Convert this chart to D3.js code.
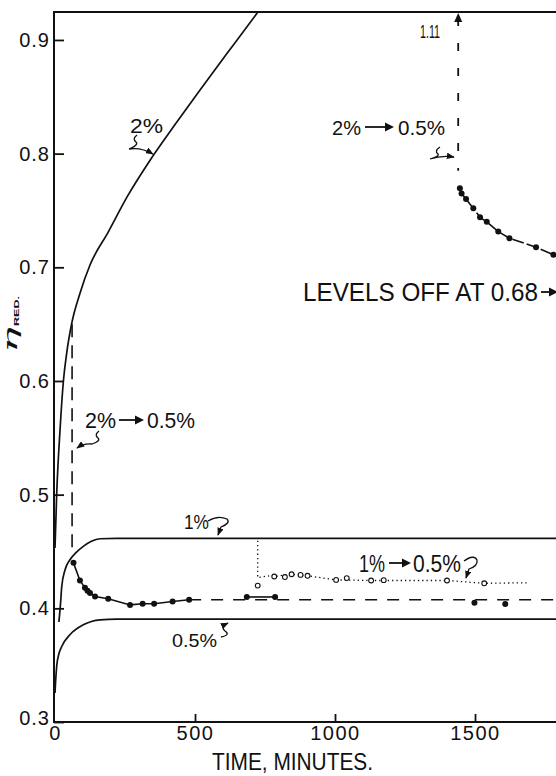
<!DOCTYPE html>
<html>
<head>
<meta charset="utf-8">
<script src="https://cdn.jsdelivr.net/npm/d3@7"></script>
<style>
  html, body { margin: 0; padding: 0; background: #fff; }
  svg { display: block; }
  text { font-family: "Liberation Sans", Arial, sans-serif; fill: #111; }
</style>
</head>
<body>
<div id="chart"></div>
<script>
// Reduced viscosity vs. time for 2%, 1% and 0.5% solutions, plus dilution runs.
// [minutes, reduced viscosity]
const curve2 = [[0,0.453],[6,0.500],[18,0.557],[30,0.600],[42,0.625],[60,0.651],[89,0.677],[125,0.702],[190,0.731],[260,0.763],[339,0.794],[430,0.826],[518,0.856],[620,0.890],[726,0.925],[760,0.936]];
const curve1 = [[14,0.388],[20,0.405],[24,0.419],[36,0.434],[54,0.443],[75,0.449],[101,0.4545],[130,0.459],[161,0.4612],[220,0.4615],[1790,0.4615]];
const curve05 = [[0,0.3255],[2,0.335],[6,0.349],[14,0.360],[24,0.3664],[54,0.377],[101,0.3855],[161,0.3899],[220,0.3905],[1790,0.3905]];

// 2% diluted to 0.5% at ~61 min (filled circles)
const dil2Early = [[66,0.440],[89,0.4245],[107,0.418],[116,0.4155],[125,0.4134],[143,0.4104],[190,0.4084],[268,0.403],[313,0.404],[354,0.404],[420,0.406],[479,0.4075]];
const dil2Late = [[685,0.410],[786,0.410],[1498,0.405],[1608,0.4037]];
const dil2Level = [[479,0.4075],[1790,0.4075]];
const drop2Early = [[61,0.650],[61,0.453]];

// 1% diluted to 0.5% at ~724 min (open circles)
const dil1 = [[724,0.420],[783,0.428],[821,0.4275],[845,0.430],[877,0.4294],[902,0.4286],[1004,0.425],[1042,0.4266],[1129,0.4245],[1174,0.4248],[1400,0.4245],[1533,0.422]];
const dil1Trace = [[724,0.4595],[724,0.427],[760,0.4285],[783,0.428],[845,0.430],[902,0.4286],[1004,0.425],[1129,0.4245],[1400,0.4245],[1533,0.422],[1694,0.4225]];

// 2% diluted to 0.5% at ~1440 min (value 1.11 before dilution)
const drop2Late = [[1440,0.9246],[1440,0.785]];
const dil2b = [[1446,0.7696],[1452,0.765],[1468,0.760],[1494,0.752],[1518,0.744],[1542,0.740],[1583,0.7314],[1623,0.7256],[1718,0.7177],[1780,0.711],[1790,0.710]];

const yTicks = [0.3,0.4,0.5,0.6,0.7,0.8,0.9];
const yTickLabels = ["0.3","0.4","0.5","0.6","0.7","0.8","0.9"];
const xTicks = [0,500,1000,1500];
const xTickLabels = ["0","500","1000","1500"];

const W = 556, H = 776;
const svg = d3.select("#chart").append("svg").attr("width", W).attr("height", H);

const x = d3.scaleLinear().domain([0, 1790]).range([55, 556.2]);
const y = d3.scaleLinear().domain([0.3, 0.9246]).range([722, 12]);

const defs = svg.append("defs");
defs.append("clipPath").attr("id", "plot")
  .append("rect").attr("x", 54).attr("y", 12).attr("width", 502).attr("height", 710);
defs.append("marker").attr("id", "ah")
  .attr("viewBox", "0 0 10 8").attr("refX", 9).attr("refY", 4)
  .attr("markerWidth", 8).attr("markerHeight", 6.4).attr("markerUnits", "userSpaceOnUse")
  .attr("orient", "auto")
  .append("path").attr("d", "M0,0 L10,4 L0,8 Z").attr("fill", "#111");

// frame
const frame = svg.append("g").attr("stroke", "#111").attr("stroke-width", 2).attr("fill", "none");
frame.append("line").attr("x1", 54).attr("x2", 54).attr("y1", 11).attr("y2", 723);
frame.append("line").attr("x1", 53).attr("x2", 556).attr("y1", 722).attr("y2", 722);
frame.append("line").attr("x1", 53).attr("x2", 556).attr("y1", 12).attr("y2", 12);

// axes with inward ticks
const yAxis = d3.axisLeft(y).tickValues(yTicks).tickSize(-10).tickPadding(4)
  .tickFormat((d, i) => yTickLabels[i]);
const gy = svg.append("g").attr("transform", "translate(54,0)").call(yAxis);
gy.select(".domain").remove();
gy.selectAll(".tick line").attr("stroke", "#111").attr("stroke-width", 1.8);
gy.selectAll(".tick text").style("font-size", "20px").style("letter-spacing", "1px")
  .style("font-family", "'Liberation Sans', Arial, sans-serif").attr("fill", "#111");
gy.selectAll(".tick").filter(d => d === 0.3).select("text").attr("dy", "0.1em");

const xAxis = d3.axisBottom(x).tickValues(xTicks).tickSize(-8).tickPadding(4)
  .tickFormat((d, i) => xTickLabels[i]);
const gx = svg.append("g").attr("transform", "translate(0,722)").call(xAxis);
gx.select(".domain").remove();
gx.selectAll(".tick line").attr("stroke", "#111").attr("stroke-width", 1.8);
gx.selectAll(".tick").filter(d => d === 0).select("line").remove();
gx.selectAll(".tick text").style("font-size", "20px").style("letter-spacing", "1.5px")
  .style("font-family", "'Liberation Sans', Arial, sans-serif").attr("fill", "#111");

// axis titles
svg.append("text").attr("x", 212).attr("y", 770)
  .attr("textLength", 161).attr("lengthAdjust", "spacingAndGlyphs")
  .style("font-size", "24px").text("TIME, MINUTES.");

const yt = svg.append("g").attr("transform", "translate(0,353) rotate(-90)");
yt.append("text").attr("x", 0).attr("y", 17)
  .attr("textLength", 26).attr("lengthAdjust", "spacingAndGlyphs")
  .style("font-family", "'DejaVu Serif', serif").style("font-style", "italic")
  .style("font-size", "18px").text("η");
yt.append("text").attr("x", 27).attr("y", 19)
  .attr("textLength", 30).attr("lengthAdjust", "spacingAndGlyphs")
  .style("font-size", "8px").style("font-weight", "bold").text("RED.");

// plotted data
const plot = svg.append("g").attr("clip-path", "url(#plot)");
const smooth = d3.line().x(d => x(d[0])).y(d => y(d[1])).curve(d3.curveMonotoneX);
const straight = d3.line().x(d => x(d[0])).y(d => y(d[1]));

[curve2, curve1, curve05].forEach(c => {
  plot.append("path").attr("d", smooth(c))
    .attr("fill", "none").attr("stroke", "#111").attr("stroke-width", 1.7);
});

plot.append("path").attr("d", straight(drop2Early))
  .attr("fill", "none").attr("stroke", "#111").attr("stroke-width", 1.6)
  .attr("stroke-dasharray", "13,8");

plot.append("path").attr("d", straight(dil2Early))
  .attr("fill", "none").attr("stroke", "#111").attr("stroke-width", 1.6);
plot.append("path").attr("d", straight(dil2Late.slice(0, 2)))
  .attr("fill", "none").attr("stroke", "#111").attr("stroke-width", 1.6);
plot.append("path").attr("d", straight(dil2Level))
  .attr("fill", "none").attr("stroke", "#111").attr("stroke-width", 1.6)
  .attr("stroke-dasharray", "12,10");

plot.append("path").attr("d", straight(dil1Trace))
  .attr("fill", "none").attr("stroke", "#111").attr("stroke-width", 1.3)
  .attr("stroke-dasharray", "1.3,3");

plot.append("path").attr("d", straight(drop2Late))
  .attr("fill", "none").attr("stroke", "#111").attr("stroke-width", 1.8)
  .attr("stroke-dasharray", "8,17").attr("stroke-dashoffset", -6);
svg.append("path").attr("d", `M${x(1440)},${y(0.9246) + 1} l-4,9 l8,0 Z`).attr("fill", "#111");

plot.append("path").attr("d", straight(dil2b))
  .attr("fill", "none").attr("stroke", "#111").attr("stroke-width", 1.6)
  .attr("stroke-dasharray", "12,3");

plot.selectAll("circle.f").data(dil2Early.concat(dil2Late, dil2b.slice(0, -1))).enter()
  .append("circle").attr("class", "f")
  .attr("cx", d => x(d[0])).attr("cy", d => y(d[1])).attr("r", 3)
  .attr("fill", "#111");

plot.selectAll("circle.o").data(dil1).enter()
  .append("circle").attr("class", "o")
  .attr("cx", d => x(d[0])).attr("cy", d => y(d[1])).attr("r", 2.4)
  .attr("fill", "#fff").attr("stroke", "#111").attr("stroke-width", 1.1);

// annotations
function label(txt, lx, ly, size, len) {
  svg.append("text").attr("x", lx).attr("y", ly)
    .attr("textLength", len).attr("lengthAdjust", "spacingAndGlyphs")
    .style("font-size", size + "px").text(txt);
}
function squiggle(d) {
  svg.append("path").attr("d", d).attr("fill", "none")
    .attr("stroke", "#111").attr("stroke-width", 1.3).attr("marker-end", "url(#ah)");
}
// lettered arrow "→" with a solid head
function textArrow(x1, x2, yc) {
  svg.append("line").attr("x1", x1).attr("x2", x2 - 6).attr("y1", yc).attr("y2", yc)
    .attr("stroke", "#111").attr("stroke-width", 1.8);
  svg.append("path").attr("d", `M${x2 - 9},${yc - 4.5} L${x2},${yc} L${x2 - 9},${yc + 4.5} Z`)
    .attr("fill", "#111");
}

label("2%", 130, 133, 21, 33);
squiggle("M137,135 q-5,4 -1,7 q3,3 -7,7 q12,-2 24,5");

label("2%", 85, 428, 22, 31);
textArrow(119, 144, 420);
label("0.5%", 147, 428, 22, 48);
squiggle("M99,431 q-5,4 -1,7 q3,3 -6,6 q-8,-1 -15,4");

label("2%", 332, 135, 21, 29);
textArrow(365, 394, 127);
label("0.5%", 398, 135, 21, 47);
squiggle("M440,147 q-6,4 -2,7 q2,2 -8,5 q12,-4 24,-2");

label("1.11", 420, 38, 18, 20);

label("LEVELS OFF AT 0.68", 303, 301, 26, 235);
textArrow(541, 558, 292);

label("1%", 184, 529, 21, 25);
squiggle("M208,521 q10,-6 19,-2 q4,4 -6,8 l-3,8");

label("1%", 359, 572, 23, 26);
textArrow(389, 411, 563);
label("0.5%", 413, 572, 23, 48);
squiggle("M464,561 q10,-7 13,-1 q1,6 -8,9 l-3,9");

label("0.5%", 172, 647, 18, 45);
squiggle("M221,637 q10,-2 4,-6 q-5,-4 3,-8");
</script>
</body>
</html>
